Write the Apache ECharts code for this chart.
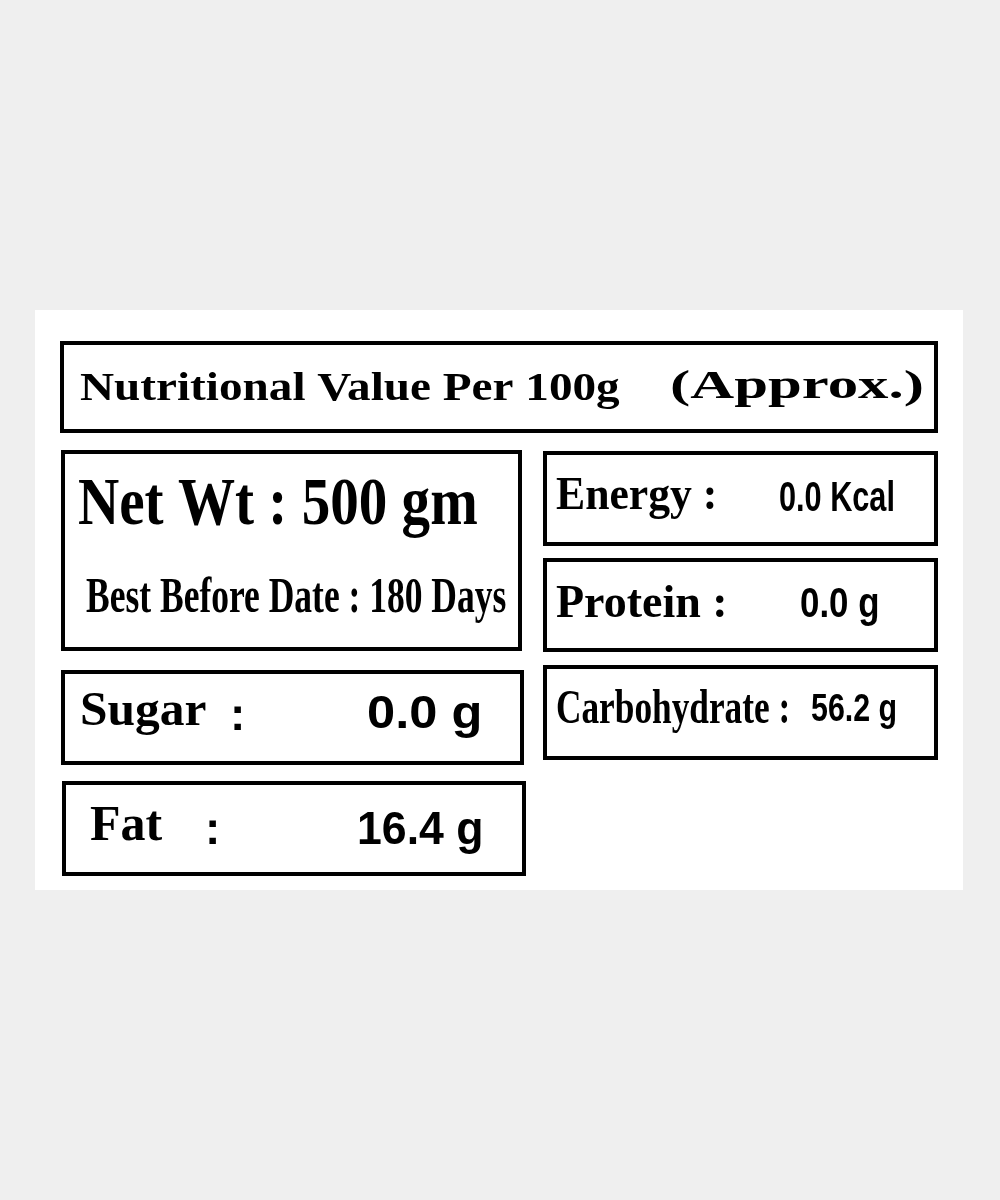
<!DOCTYPE html>
<html><head><meta charset="utf-8">
<script src="https://cdn.jsdelivr.net/npm/echarts@6/dist/echarts.min.js"></script>
<style>html,body{margin:0;padding:0;background:#efefef}#c{width:1000px;height:1200px}</style>
</head><body><div id="c"></div>
<script>
const titleText = ['Nutritional Value Per 100g', '(Approx.)'];
const netWt = ['Net Wt : 500 gm', 'Best Before Date : 180 Days'];
const rightLabels = ['Energy :', 'Protein :', 'Carbohydrate :'];
const rightValues = ['0.0 Kcal', '0.0 g', '56.2 g'];
const leftLabels = ['Sugar', 'Fat'];
const leftValues = ['0.0 g', '16.4 g'];

const SERIF = '"Liberation Serif", "DejaVu Serif", serif';
const SANS = '"Liberation Sans", Arial, sans-serif';
function box(x, y, w, h) {
  return {type:'rect', shape:{x:x, y:y, width:w, height:h}, style:{fill:'#fff', stroke:'#000', lineWidth:4}};
}
function txt(s, x, y, size, font, sx, weight) {
  return {type:'text', x:x, y:y, scaleX:sx||1, style:{text:s, fontSize:size, fontFamily:font, fontWeight:weight||'bold', fill:'#000', verticalAlign:'middle', align:'left'}};
}
const g = [
  {type:'rect', shape:{x:35,y:310,width:928,height:580}, style:{fill:'#fff'}},
  box(62,343,874,88),
  txt(titleText[0], 80, 390, 40, SERIF, 1.18),
  txt(titleText[1], 670, 388, 40, SERIF, 1.52),
  box(63,452,457,197),
  txt(netWt[0], 78, 506, 68, SERIF, 0.84),
  txt(netWt[1], 86, 599, 50, SERIF, 0.71),
  box(545,453,391,91), box(545,560,391,90), box(545,667,391,91),
  txt(rightLabels[0], 556, 497, 46, SERIF, 0.95),
  txt(rightValues[0], 779, 499, 42, SANS, 0.73),
  txt(rightLabels[1], 556, 605, 46, SERIF, 1.0),
  txt(rightValues[1], 800, 605, 42, SANS, 0.83),
  txt(rightLabels[2], 556, 711, 48, SERIF, 0.735),
  txt(rightValues[2], 811, 711, 38, SANS, 0.8),
  box(63,672,459,91),
  txt(leftLabels[0], 80, 713, 48, SERIF, 1.03),
  txt(':', 230, 717, 46, SANS, 1),
  txt(leftValues[0], 367, 715, 46, SANS, 1.1),
  box(64,783,460,91),
  txt(leftLabels[1], 90, 827, 50, SERIF, 1),
  txt(':', 205, 831, 46, SANS, 1),
  txt(leftValues[1], 357, 831, 46, SANS, 0.97)
];
const chart = echarts.init(document.getElementById('c'));
chart.setOption({backgroundColor:'#efefef', graphic:g});
</script></body></html>
